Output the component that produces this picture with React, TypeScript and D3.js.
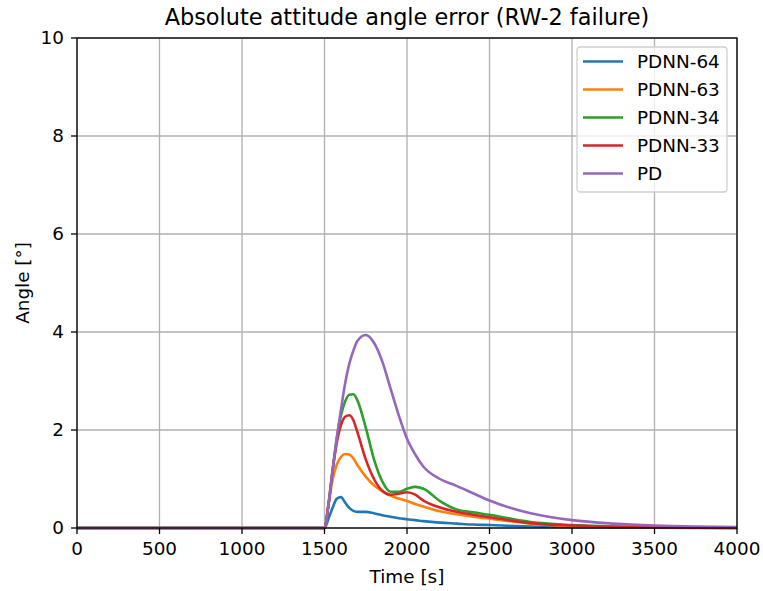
import * as d3 from "d3";

const times = [0, 1500, 1525, 1550, 1575, 1600, 1625, 1650, 1675, 1700, 1750, 1800, 1850, 1900, 1950, 2000, 2050, 2100, 2200, 2300, 2400, 2500, 2750, 3000, 3250, 3500, 3750, 4000];

const pdnn64 = [0, 0, 0.2, 0.42, 0.6, 0.63, 0.52, 0.41, 0.35, 0.33, 0.33, 0.3, 0.26, 0.23, 0.2, 0.18, 0.16, 0.14, 0.11, 0.09, 0.07, 0.06, 0.03, 0.015, 0.008, 0.004, 0.002, 0.001];
const pdnn63 = [0, 0, 0.5, 1.0, 1.3, 1.45, 1.51, 1.5, 1.42, 1.28, 1.05, 0.87, 0.75, 0.66, 0.6, 0.55, 0.49, 0.44, 0.34, 0.28, 0.23, 0.19, 0.09, 0.04, 0.02, 0.01, 0.005, 0.003];
const pdnn34 = [0, 0, 0.5, 1.2, 1.85, 2.3, 2.58, 2.72, 2.73, 2.6, 2.05, 1.4, 0.95, 0.74, 0.74, 0.8, 0.84, 0.8, 0.55, 0.38, 0.32, 0.27, 0.12, 0.06, 0.03, 0.015, 0.008, 0.005];
const pdnn33 = [0, 0, 0.5, 1.2, 1.75, 2.1, 2.27, 2.3, 2.2, 1.95, 1.4, 1.0, 0.76, 0.68, 0.7, 0.73, 0.68, 0.56, 0.42, 0.33, 0.27, 0.22, 0.1, 0.05, 0.025, 0.012, 0.006, 0.003];
const pd = [0, 0, 0.5, 1.2, 1.85, 2.42, 2.95, 3.35, 3.62, 3.82, 3.94, 3.78, 3.4, 2.85, 2.3, 1.82, 1.5, 1.25, 1.0, 0.86, 0.71, 0.56, 0.3, 0.16, 0.09, 0.05, 0.03, 0.02];

const seriesNames = ["PDNN-64", "PDNN-63", "PDNN-34", "PDNN-33", "PD"];
const seriesValues = [pdnn64, pdnn63, pdnn34, pdnn33, pd];
const colors = ["#1f77b4", "#ff7f0e", "#2ca02c", "#d62728", "#9467bd"];

const xTicks = [0, 500, 1000, 1500, 2000, 2500, 3000, 3500, 4000];
const yTicks = [0, 2, 4, 6, 8, 10];

const W = 763;
const H = 591;
const margin = { top: 38, right: 26, bottom: 63, left: 77 };

export default function App() {
  const innerW = W - margin.left - margin.right;
  const innerH = H - margin.top - margin.bottom;

  const x = d3.scaleLinear().domain([0, 4000]).range([0, innerW]);
  const y = d3.scaleLinear().domain([0, 10]).range([innerH, 0]);

  const line = d3
    .line<number>()
    .x((d, i) => x(times[i]))
    .y((d) => y(d))
    .curve(d3.curveMonotoneX);

  const font = "DejaVu Sans, sans-serif";

  return (
    <svg width={W} height={H} style={{ position: "absolute", left: 0, top: 0, background: "#fff" }} fontFamily={font}>
      <text x={margin.left + innerW / 2} y={25} textAnchor="middle" fontSize={22.4} fill="#000">
        Absolute attitude angle error (RW-2 failure)
      </text>
      <g transform={`translate(${margin.left},${margin.top})`}>
        {/* grid */}
        {xTicks.map((t) => (
          <line key={"gx" + t} x1={x(t)} x2={x(t)} y1={0} y2={innerH} stroke="#b0b0b0" strokeWidth={1.3} />
        ))}
        {yTicks.map((t) => (
          <line key={"gy" + t} x1={0} x2={innerW} y1={y(t)} y2={y(t)} stroke="#b0b0b0" strokeWidth={1.3} />
        ))}

        {/* lines */}
        {seriesValues.map((vals, i) => (
          <path key={seriesNames[i]} d={line(vals) || ""} fill="none" stroke={colors[i]} strokeWidth={2.6} strokeLinejoin="round" />
        ))}

        {/* spines */}
        <rect x={0} y={0} width={innerW} height={innerH} fill="none" stroke="#000" strokeWidth={1.3} />

        {/* x ticks */}
        {xTicks.map((t) => (
          <g key={"tx" + t} transform={`translate(${x(t)},${innerH})`}>
            <line y1={0} y2={6} stroke="#000" strokeWidth={1.3} />
            <text y={27} textAnchor="middle" fontSize={18.4} fill="#000">
              {t}
            </text>
          </g>
        ))}
        {/* y ticks */}
        {yTicks.map((t) => (
          <g key={"ty" + t} transform={`translate(0,${y(t)})`}>
            <line x1={-6} x2={0} stroke="#000" strokeWidth={1.3} />
            <text x={-13} dy="0.35em" textAnchor="end" fontSize={18.4} fill="#000">
              {t}
            </text>
          </g>
        ))}

        <text x={innerW / 2} y={innerH + 55} textAnchor="middle" fontSize={18.4} fill="#000">
          Time [s]
        </text>
        <text transform={`translate(-48,${innerH / 2}) rotate(-90)`} textAnchor="middle" fontSize={18.4} fill="#000">
          Angle [°]
        </text>

        {/* legend */}
        <g transform={`translate(${innerW - 160},9)`}>
          <rect x={0} y={0} width={150} height={145} rx={3} fill="#fff" fillOpacity={0.8} stroke="#d0d0d0" strokeWidth={1.3} />
          {seriesNames.map((name, i) => (
            <g key={"lg" + name} transform={`translate(0,${14.5 + i * 28})`}>
              <line x1={6} x2={46} y1={0} y2={0} stroke={colors[i]} strokeWidth={2.6} />
              <text x={60} dy="0.35em" fontSize={18.4} fill="#000">
                {name}
              </text>
            </g>
          ))}
        </g>
      </g>
    </svg>
  );
}
